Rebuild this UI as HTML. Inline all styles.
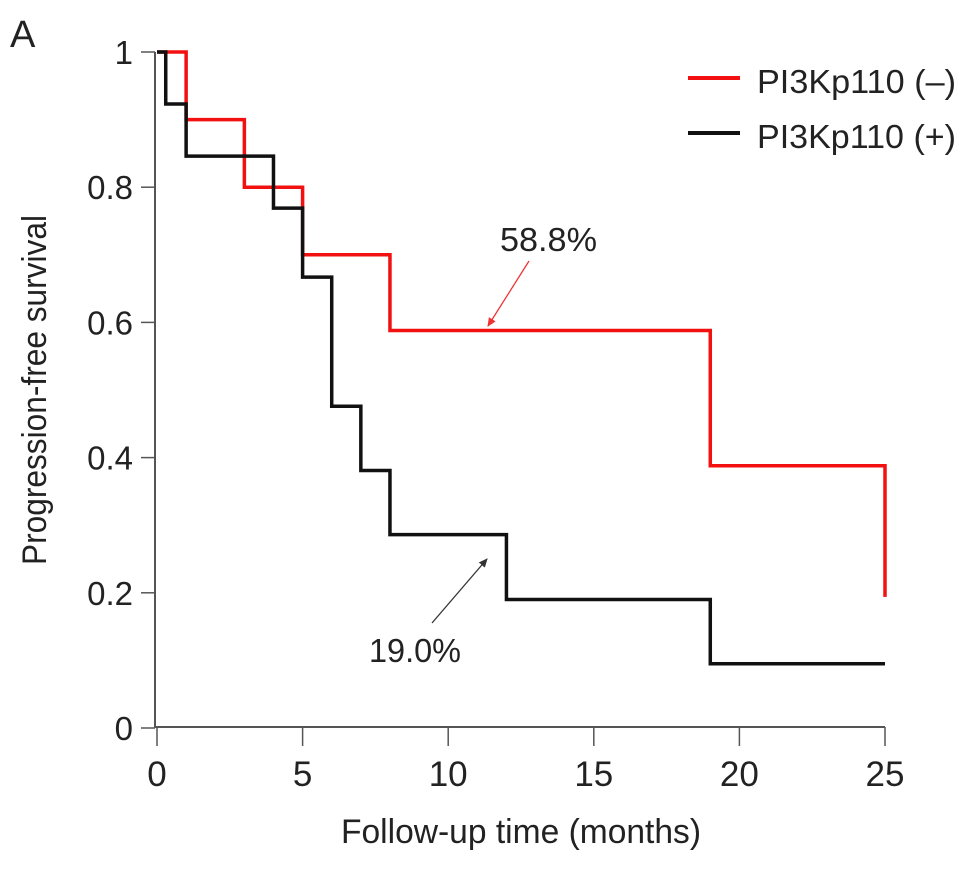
<!DOCTYPE html>
<html><head><meta charset="utf-8"><style>
html,body{margin:0;padding:0;background:#fff;}
svg text{font-family:"Liberation Sans",Arial,sans-serif;fill:#222;}
</style></head><body>
<svg id="chart" width="969" height="868" viewBox="0 0 969 868" xmlns="http://www.w3.org/2000/svg">
<defs>
<marker id="arrR" markerWidth="10" markerHeight="10" refX="8" refY="5" orient="auto" markerUnits="userSpaceOnUse"><path d="M0,1 L9,5 L0,9 z" fill="#e33"/></marker>
<marker id="arrK" markerWidth="10" markerHeight="10" refX="8" refY="5" orient="auto" markerUnits="userSpaceOnUse"><path d="M0,1 L9,5 L0,9 z" fill="#333"/></marker>
</defs>
<text x="10" y="47" font-size="38">A</text>
<text transform="translate(46,390) rotate(-90)" text-anchor="middle" font-size="34" textLength="350" lengthAdjust="spacingAndGlyphs">Progression-free survival</text>
<text x="521" y="843" text-anchor="middle" font-size="34" textLength="360" lengthAdjust="spacingAndGlyphs">Follow-up time (months)</text>
<g id="axes"></g>
<g id="series"></g>
<g>
<line x1="688" y1="78" x2="740" y2="78" stroke="#f21010" stroke-width="4"/>
<text x="757" y="93" font-size="33" textLength="199" lengthAdjust="spacingAndGlyphs">PI3Kp110 (–)</text>
<line x1="688" y1="133" x2="740" y2="133" stroke="#111" stroke-width="4"/>
<text x="757" y="148" font-size="33" textLength="199" lengthAdjust="spacingAndGlyphs">PI3Kp110 (+)</text>
</g>
<text x="500" y="251" font-size="33" textLength="97" lengthAdjust="spacingAndGlyphs">58.8%</text>
<line x1="529" y1="261" x2="488" y2="326" stroke="#e33" stroke-width="1.3" marker-end="url(#arrR)"/>
<text x="369" y="662" font-size="33" textLength="92" lengthAdjust="spacingAndGlyphs">19.0%</text>
<line x1="432" y1="623" x2="487" y2="559" stroke="#333" stroke-width="1.3" marker-end="url(#arrK)"/>
</svg>
<script>
const xTicks = [0, 5, 10, 15, 20, 25];
const yTicks = [0, 0.2, 0.4, 0.6, 0.8, 1];
const yTickLabels = ["0", "0.2", "0.4", "0.6", "0.8", "1"];
const negTimes = [0, 1, 3, 5, 8, 19, 25];
const negSurv = [1, 0.9, 0.8, 0.7, 0.588, 0.388, 0.194];
const posTimes = [0, 0.3, 1, 4, 5, 6, 7, 8, 12, 19, 25];
const posSurv = [1, 0.923, 0.846, 0.769, 0.667, 0.476, 0.381, 0.286, 0.19, 0.095, 0.095];

const NS = "http://www.w3.org/2000/svg";
const X0 = 157, X1 = 885, Y0 = 728, Y1 = 52;
function sx(t){ return X0 + (t - 0) / 25 * (X1 - X0); }
function sy(v){ return Y0 - v * (Y0 - Y1); }
function mk(tag, attrs, parent){ const e = document.createElementNS(NS, tag); for (const k in attrs) e.setAttribute(k, attrs[k]); parent.appendChild(e); return e; }

const axes = document.getElementById('axes');
const yl = mk('line', {x1: 155, y1: sy(0), x2: 155, y2: sy(1), stroke: '#555', 'stroke-width': 2}, axes);


const xl = mk('line', {x1: sx(0) - 2, y1: 727, x2: sx(25), y2: 727, stroke: '#555', 'stroke-width': 2}, axes);


yTicks.forEach((v, i) => {
  const tk = mk('line', {x1: 141, y1: sy(v), x2: 155, y2: sy(v), stroke: '#555', 'stroke-width': 1.5}, axes);
  
  
  const t = mk('text', {x: 133, y: sy(v) + 12, 'text-anchor': 'end', 'font-size': 33}, axes);
  t.textContent = yTickLabels[i];
  
  
});
xTicks.forEach(v => {
  const tk = mk('line', {x1: sx(v), y1: 727, x2: sx(v), y2: 746, stroke: '#555', 'stroke-width': 1.5}, axes);
  
  
  const t = mk('text', {x: sx(v), y: 786, 'text-anchor': 'middle', 'font-size': 35}, axes);
  t.textContent = String(v);
  
  
});

function stepPath(ts, vs){
  let d = 'M' + sx(ts[0]) + ',' + sy(vs[0]);
  for (let i = 1; i < ts.length; i++){
    d += ' L' + sx(ts[i]) + ',' + sy(vs[i-1]) + ' L' + sx(ts[i]) + ',' + sy(vs[i]);
  }
  return d;
}
const series = document.getElementById('series');
const pn = mk('path', {d: stepPath(negTimes, negSurv), fill: 'none', stroke: '#f21010', 'stroke-width': 3.5}, series);


const pp = mk('path', {d: stepPath(posTimes, posSurv), fill: 'none', stroke: '#111', 'stroke-width': 3.5}, series);


</script>
</body></html>
